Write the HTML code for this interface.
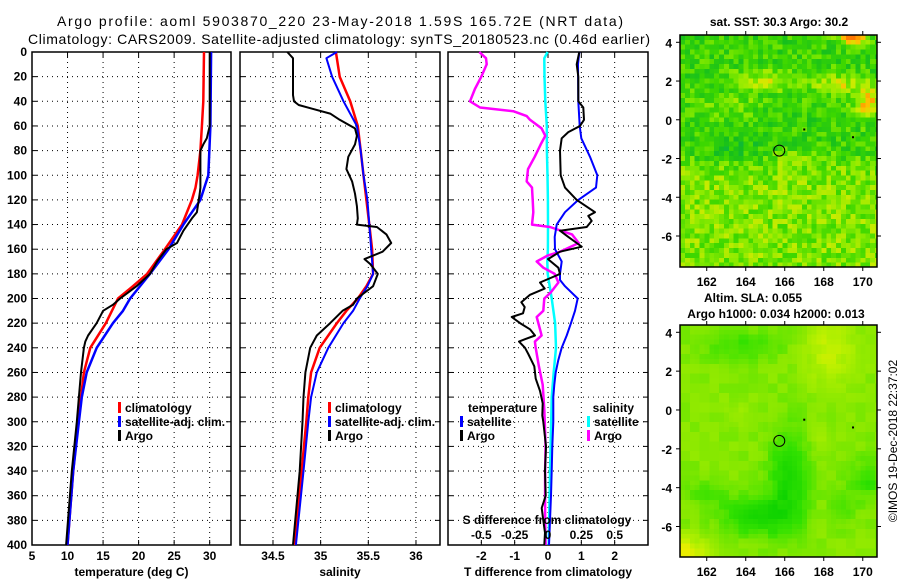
<!DOCTYPE html>
<html><head><meta charset="utf-8">
<style>
html,body{margin:0;padding:0;background:#fff;}
svg{display:block;font-family:"Liberation Sans",Arial,sans-serif;}
.tk{font-size:12px;font-weight:bold;}
.tt{font-size:14px;}
</style></head>
<body>
<svg id="fig" width="900" height="580" viewBox="0 0 900 580" xmlns="http://www.w3.org/2000/svg">
<text class="tt" x="340" y="26" text-anchor="middle" textLength="566">Argo profile: aoml 5903870_220 23-May-2018 1.59S 165.72E (NRT data)</text>
<text class="tt" x="339" y="44" text-anchor="middle" textLength="622">Climatology: CARS2009. Satellite-adjusted climatology: synTS_20180523.nc (0.46d earlier)</text>
<g id="maps"></g>
<g id="panels"></g>
</svg>
<script>
// ---- data (depth m) ----
const tClimDepth = [0,40,60,80,100,110,120,140,160,180,190,200,220,240,260,280,300,340,400];
const tClimVal   = [29.2,29.1,28.9,28.7,28.3,28.0,27.5,26.1,23.7,21.2,19.2,17.1,15.4,13.2,12.3,11.9,11.5,10.8,10.0];
const tSatDepth  = [0,60,100,120,140,160,180,200,210,220,240,260,280,300,340,400];
const tSatVal    = [30.2,30.1,29.8,28.7,26.3,24.2,21.6,18.8,17.8,16.4,14.1,12.7,12.0,11.6,10.8,10.0];
const tArgoDepth = [0,60,70,75,80,110,115,130,135,145,155,160,170,180,190,200,205,210,220,230,235,240,260,280,300,340,400];
const tArgoVal   = [30.0,30.0,29.6,29.1,28.7,28.7,28.6,28.2,27.5,26.3,25.4,23.9,22.6,21.6,19.7,17.4,16.4,15.0,14.1,12.9,12.5,12.3,11.9,11.6,11.3,10.6,9.8];

const sClimDepth = [0,20,40,60,80,100,120,140,160,180,190,200,210,220,240,260,280,300,340,400];
const sClimVal   = [35.16,35.20,35.31,35.39,35.42,35.45,35.48,35.51,35.54,35.55,35.48,35.39,35.27,35.17,34.99,34.90,34.87,34.85,34.80,34.72];
const sSatDepth  = [0,5,20,40,60,80,100,120,140,160,180,190,200,210,220,240,260,280,300,340,400];
const sSatVal    = [35.17,35.06,35.12,35.24,35.38,35.42,35.45,35.49,35.51,35.53,35.55,35.49,35.41,35.34,35.24,35.08,34.96,34.90,34.87,34.82,34.74];
const sArgoDepth = [0,5,35,40,43,46,50,55,62,68,75,85,95,105,115,125,135,140,142,148,155,162,168,172,180,190,200,205,210,220,230,240,260,280,300,340,400];
const sArgoVal   = [34.65,34.71,34.71,34.72,34.77,34.91,35.10,35.20,35.36,35.38,35.36,35.29,35.27,35.33,35.36,35.38,35.39,35.38,35.59,35.69,35.74,35.65,35.46,35.52,35.60,35.55,35.38,35.34,35.23,35.10,34.96,34.89,34.84,34.82,34.81,34.78,34.71];

const dtSatDepth = [0,10,40,60,70,85,100,110,120,130,140,150,160,170,180,185,190,200,210,220,230,240,250,260,270,280,300,320,340,360,380,400];
const dtSatVal   = [0.94,0.90,0.91,0.95,1.00,1.26,1.48,1.44,0.91,0.51,0.26,0.20,0.21,0.41,0.36,0.36,0.51,0.89,0.81,0.69,0.56,0.41,0.31,0.23,0.19,0.16,0.16,0.13,0.11,0.09,0.06,0.03];
const dtArgoDepth = [0,10,20,40,45,55,60,65,70,80,100,110,120,130,133,137,142,145,150,155,158,162,168,175,180,183,187,192,197,203,207,212,215,220,225,230,233,235,240,245,255,265,275,285,295,300,320,340,360,370,380,390,400];
const dtArgoVal   = [0.94,0.86,0.91,0.91,1.06,1.08,0.96,0.61,0.41,0.36,0.38,0.51,0.86,1.41,1.21,1.31,1.16,0.36,0.61,0.86,1.01,0.36,0.00,0.31,0.36,0.11,-0.24,-0.10,-0.54,-0.80,-0.70,-0.75,-1.09,-0.84,-0.54,-0.39,-0.69,-0.87,-0.69,-0.59,-0.41,-0.37,-0.24,-0.16,-0.17,-0.14,-0.06,-0.09,-0.07,-0.19,-0.14,-0.09,-0.11];
const dsSatDepth = [0,5,20,40,60,80,100,120,140,160,170,180,200,220,240,260,280,300,340,400];
const dsSatVal   = [-0.003,-0.028,-0.026,-0.020,-0.009,-0.008,-0.004,-0.001,0.000,-0.001,-0.005,-0.002,0.028,0.053,0.060,0.043,0.028,0.024,0.015,0.005];
const dsArgoDepth = [0,5,10,20,30,40,45,48,52,55,62,68,75,85,95,105,110,120,130,140,142,148,155,162,165,170,175,180,187,195,200,210,215,225,230,235,240,255,270,290,320,340,380,400];
const dsArgoVal   = [-0.515,-0.465,-0.46,-0.50,-0.548,-0.585,-0.51,-0.26,-0.16,-0.135,-0.048,-0.02,-0.055,-0.10,-0.15,-0.16,-0.12,-0.115,-0.11,-0.12,0.015,0.18,0.23,0.09,0.0,-0.085,-0.035,0.05,0.078,0.022,-0.028,-0.035,-0.085,-0.06,-0.048,-0.098,-0.092,-0.068,-0.04,-0.028,-0.018,-0.022,-0.022,-0.018];

const depthTicks = [0,20,40,60,80,100,120,140,160,180,200,220,240,260,280,300,320,340,360,380,400];
const tTicks = [5,10,15,20,25,30];
const sTicks = [34.5,35,35.5,36];
const dtTicks = [-2,-1,0,1,2];
const dsTickVals = [-0.5,-0.25,0,0.25,0.5];
const dsTickLabels = ['-0.5','-0.25','0','0.25','0.5'];
const lonTicks = [162,164,166,168,170];
const latTicks = [4,2,0,-2,-4,-6];
const argoLon = 165.72, argoLat = -1.59;

const NS='http://www.w3.org/2000/svg';
function mk(tag, attrs, parent){const e=document.createElementNS(NS,tag);for(const k in attrs)e.setAttribute(k,attrs[k]);parent.appendChild(e);return e;}
const TOP=52, BOT=545;
const yD = d => TOP + d*(BOT-TOP)/400;
const panelsG = document.getElementById('panels');

const panels = [
 {name:'temperature-panel', x0:32, x1:231, lo:5, hi:33, ticks:tTicks, labels:tTicks.map(String), xlabel:'temperature (deg C)'},
 {name:'salinity-panel', x0:240, x1:440, lo:34.154, hi:36.252, ticks:sTicks, labels:sTicks.map(String), xlabel:'salinity'},
 {name:'difference-panel', x0:448, x1:648, lo:-3, hi:3, ticks:dtTicks, labels:dtTicks.map(String), xlabel:'T difference from climatology'}
];
panels.forEach(p=>{p.sx = v => p.x0 + (v-p.lo)*(p.x1-p.x0)/(p.hi-p.lo);});

function line(g, p, depths, vals, color, w, name, f){
  const pts = depths.map((d,i)=>p.sx(f?f(vals[i]):vals[i]).toFixed(1)+','+yD(d).toFixed(1)).join(' ');
  const e = mk('polyline',{points:pts,fill:'none',stroke:color,'stroke-width':w,'stroke-linejoin':'round'},g);
  
  
}
function txt(g, x, y, s, anchor, cls, name, extra){
  const e = mk('text',Object.assign({x:x,y:y,'text-anchor':anchor||'start','class':cls||'tk'},extra||{}),g);
  e.textContent = s;
  
  
  return e;
}
function legendItem(g, x, y, color, label, name){
  const r = mk('rect',{x:x,y:y-10,width:3,height:11,fill:color},g);
  
  
  txt(g, x+7, y, label, 'start', 'tk', name+'-label');
}

panels.forEach((p,pi)=>{
  const g = mk('g',{},panelsG);
  
  
  depthTicks.forEach(d=>{ if(d>0&&d<400){ const l=mk('line',{x1:p.x0,x2:p.x1,y1:yD(d),y2:yD(d),stroke:'#000','stroke-width':1,'stroke-dasharray':'1,4'},g);
     }
    mk('line',{x1:p.x0,x2:p.x0+5,y1:yD(d),y2:yD(d),stroke:'#000'},g);
    mk('line',{x1:p.x1-5,x2:p.x1,y1:yD(d),y2:yD(d),stroke:'#000'},g);
  });
  p.ticks.forEach(v=>{const x=p.sx(v); const l=mk('line',{x1:x,x2:x,y1:TOP,y2:BOT,stroke:'#000','stroke-width':1,'stroke-dasharray':'1,4'},g);
     
    mk('line',{x1:x,x2:x,y1:BOT-5,y2:BOT,stroke:'#000'},g); mk('line',{x1:x,x2:x,y1:TOP,y2:TOP+5,stroke:'#000'},g);});
  p.ticks.forEach((v,i)=>txt(g, p.sx(v), 560, p.labels[i], 'middle', 'tk', 'x-tick-label'));
  txt(g, (p.x0+p.x1)/2, 576, p.xlabel, 'middle', 'tk', 'x-axis-title');
  if(pi===0) depthTicks.forEach(d=>txt(g, 27, yD(d)+4, String(d), 'end', 'tk', 'y-tick-label'));
  const fr = mk('rect',{x:p.x0,y:TOP,width:p.x1-p.x0,height:BOT-TOP,fill:'none',stroke:'#000','stroke-width':1.5},g);
   
});

const [P1,P2,P3] = panels;
const g1 = panelsG.children[0], g2 = panelsG.children[1], g3 = panelsG.children[2];
line(g1,P1,tClimDepth,tClimVal,'#f00',2.5,'temp-climatology-line');
line(g1,P1,tSatDepth,tSatVal,'#00f',2.5,'temp-satellite-line');
line(g1,P1,tArgoDepth,tArgoVal,'#000',2,'temp-argo-line');
line(g2,P2,sClimDepth,sClimVal,'#f00',2.5,'sal-climatology-line');
line(g2,P2,sSatDepth,sSatVal,'#00f',2,'sal-satellite-line');
line(g2,P2,sArgoDepth,sArgoVal,'#000',2,'sal-argo-line');
line(g3,P3,dsSatDepth,dsSatVal,'#0ff',2.5,'sdiff-satellite-line',v=>v*4);
line(g3,P3,dsArgoDepth,dsArgoVal,'#f0f',2.5,'sdiff-argo-line',v=>v*4);
line(g3,P3,dtSatDepth,dtSatVal,'#00f',2,'tdiff-satellite-line');
line(g3,P3,dtArgoDepth,dtArgoVal,'#000',2,'tdiff-argo-line');

[[g1,118],[g2,328]].forEach(([g,x],i)=>{
  const lg = mk('g',{},g);  
  legendItem(lg,x,412,'#f00','climatology','legend-climatology');
  legendItem(lg,x,426,'#00f','satellite-adj. clim.','legend-satellite');
  legendItem(lg,x,440,'#000','Argo','legend-argo');
});
const lg3 = mk('g',{},g3);  
txt(lg3,468,412,'temperature','start','tk','legend-temperature-heading');
legendItem(lg3,460,426,'#00f','satellite','legend-tdiff-satellite');
legendItem(lg3,460,440,'#000','Argo','legend-tdiff-argo');
txt(lg3,634,412,'salinity','end','tk','legend-salinity-heading');
legendItem(lg3,587,426,'#0ff','satellite','legend-sdiff-satellite');
legendItem(lg3,587,440,'#f0f','Argo','legend-sdiff-argo');
txt(g3,547,524,'S difference from climatology','middle','tk','s-axis-title');
dsTickVals.forEach((v,i)=>txt(g3,P3.sx(v*4),539,dsTickLabels[i],'middle','tk','s-tick-label'));

// ---- maps ----
const mapsG = document.getElementById('maps');
const LON0=160.63, LON1=170.73;
function hash(i,j,s){let h=(i*374761393+j*668265263+s*1442695041)|0;h=(h^(h>>>13))*1274126177|0;return ((h^(h>>>16))>>>0)/4294967295;}
function gauss(lon,lat,cx,cy,sx,sy,a){return a*Math.exp(-((lon-cx)*(lon-cx)/(2*sx*sx)+(lat-cy)*(lat-cy)/(2*sy*sy)));}
function pal(stops,v){v=Math.max(0,Math.min(1,v));for(let k=1;k<stops.length;k++){if(v<=stops[k][0]){const a=stops[k-1],b=stops[k],t=(v-a[0])/(b[0]-a[0]);const c=[0,1,2].map(m=>Math.round(a[1][m]+(b[1][m]-a[1][m])*t));return 'rgb('+c.join(',')+')';}}const l=stops[stops.length-1][1];return 'rgb('+l.join(',')+')';}
const sstPal=[[0,[0,170,120]],[0.25,[20,190,30]],[0.45,[60,215,0]],[0.62,[140,235,0]],[0.78,[210,235,0]],[0.9,[255,190,0]],[1,[255,110,0]]];
const slaPal=[[0,[0,205,0]],[0.3,[50,225,0]],[0.55,[135,232,0]],[0.8,[185,240,0]],[1,[235,238,0]]];
function sstVal(lon,lat,i,j){
  const s = 0.5+0.5*Math.tanh((-2.2-lat)/0.6);
  let v = 0.42 + 0.18*s;
  v -= gauss(lon,lat,163.5,-1.5,1.3,0.6,0.1);
  v += gauss(lon,lat,165,2,1.2,0.35,0.3)+gauss(lon,lat,169,1.8,1.2,0.4,0.3)+gauss(lon,lat,170.3,0.8,0.5,0.5,0.45)+gauss(lon,lat,169.5,4.2,0.5,0.3,0.55)+gauss(lon,lat,163,0.8,1.2,0.4,0.15)+gauss(lon,lat,166.5,-2,0.8,0.3,0.15);
  return v + (hash(i,j,1)-0.5)*0.32;
}
function slaVal(lon,lat,i,j){
  let v=0.55;
  v -= gauss(lon,lat,166.2,-3.5,0.7,1.8,0.4)+gauss(lon,lat,164.5,-5.5,1.3,0.7,0.4)+gauss(lon,lat,163.8,3.3,1.5,0.6,0.2)+gauss(lon,lat,170.3,-3.5,0.6,0.8,0.25)+gauss(lon,lat,162,-4.3,0.8,0.5,0.15)+gauss(lon,lat,169,-5,0.5,0.7,0.15);
  v += gauss(lon,lat,168.3,3,0.9,1.2,0.3)+gauss(lon,lat,160.8,-7.4,0.9,0.6,0.5)+gauss(lon,lat,167.8,-1.7,0.4,0.6,0.12)+gauss(lon,lat,163.5,-0.3,0.4,0.4,0.12);
  return v + (hash(Math.floor(i/2),Math.floor(j/2),2)-0.5)*0.12;
}
function drawMap(x0,x1,y0,y1,latTopTick4,latTickM6,fn,pal,name,cell){
  const g = mk('g',{},mapsG);  
  const px = (x1-x0)/(LON1-LON0);
  const py = (latTickM6-latTopTick4)/10;
  const LAT0 = 4 + (latTopTick4-y0)/py, LAT1 = 4 - (y1-latTopTick4)/py;
  const sxL = lon => x0 + (lon-LON0)*px, syL = lat => latTopTick4 + (4-lat)*py;
  const nI = Math.ceil((LON1-LON0)/cell), nJ = Math.ceil((LAT0-LAT1)/cell);
  for(let i=0;i<nI;i++)for(let j=0;j<nJ;j++){
    const lon = LON0+(i+0.5)*cell, lat = LAT0-(j+0.5)*cell;
    const xa=sxL(LON0+i*cell), ya=syL(LAT0-j*cell);
    mk('rect',{x:xa.toFixed(2),y:ya.toFixed(2),width:(cell*px+0.6).toFixed(2),height:(cell*py+0.6).toFixed(2),fill:pal(fn(lon,lat,i,j)),'shape-rendering':'crispEdges'},g);
  }
  mk('rect',{x:x1,y:y0-2,width:40,height:y1-y0+4,fill:'#fff'},g);
  mk('rect',{x:x0-2,y:y1,width:x1-x0+6,height:20,fill:'#fff'},g);
  mk('rect',{x:x0-2,y:y0-20,width:x1-x0+6,height:20,fill:'#fff'},g);
  mk('rect',{x:x0-30,y:y0-2,width:30,height:y1-y0+4,fill:'#fff'},g);
  const fr = mk('rect',{x:x0,y:y0,width:x1-x0,height:y1-y0,fill:'none',stroke:'#000','stroke-width':1.5},g);
   
  lonTicks.forEach(l=>{const x=sxL(l); mk('line',{x1:x,x2:x,y1:y1,y2:y1+4,stroke:'#000'},g); mk('line',{x1:x,x2:x,y1:y0-4,y2:y0,stroke:'#000'},g); txt(g,x,y1+19,String(l),'middle','tk','map-lon-tick-label');});
  latTicks.forEach(l=>{const y=syL(l); mk('line',{x1:x0-4,x2:x0,y1:y,y2:y,stroke:'#000'},g); mk('line',{x1:x1,x2:x1+4,y1:y,y2:y,stroke:'#000'},g); txt(g,x0-8,y+5,String(l),'end','tk','map-lat-tick-label');});
  const c = mk('circle',{cx:sxL(argoLon),cy:syL(argoLat),r:5.5,fill:'none',stroke:'#000','stroke-width':1},g);
   
  mk('rect',{x:sxL(167)-1,y:syL(-0.5)-1,width:2,height:2,fill:'#000'},g);
  mk('rect',{x:sxL(169.5)-1,y:syL(-0.9)-1,width:2,height:2,fill:'#000'},g);
}
drawMap(680,877,35,267,42.3,236,sstVal,v=>pal(sstPal,v),'sst-map',0.25);
drawMap(680,877,325,557,332.3,526.5,slaVal,v=>pal(slaPal,v),'sla-map',0.25);
txt(mapsG,779,26,'sat. SST: 30.3 Argo: 30.2','middle','tk','sst-map-title');
txt(mapsG,753,302,'Altim. SLA: 0.055','middle','tk','sla-map-title');
txt(mapsG,776,318,'Argo h1000: 0.034 h2000: 0.013','middle','tk','sla-map-subtitle');
const imos = txt(mapsG,0,0,'©IMOS 19-Dec-2018 22:37:02','middle','tk','imos-credit',{transform:'translate(897,441) rotate(-90)'});
imos.setAttribute('style','font-weight:normal;font-size:12px');
</script>
</body></html>
